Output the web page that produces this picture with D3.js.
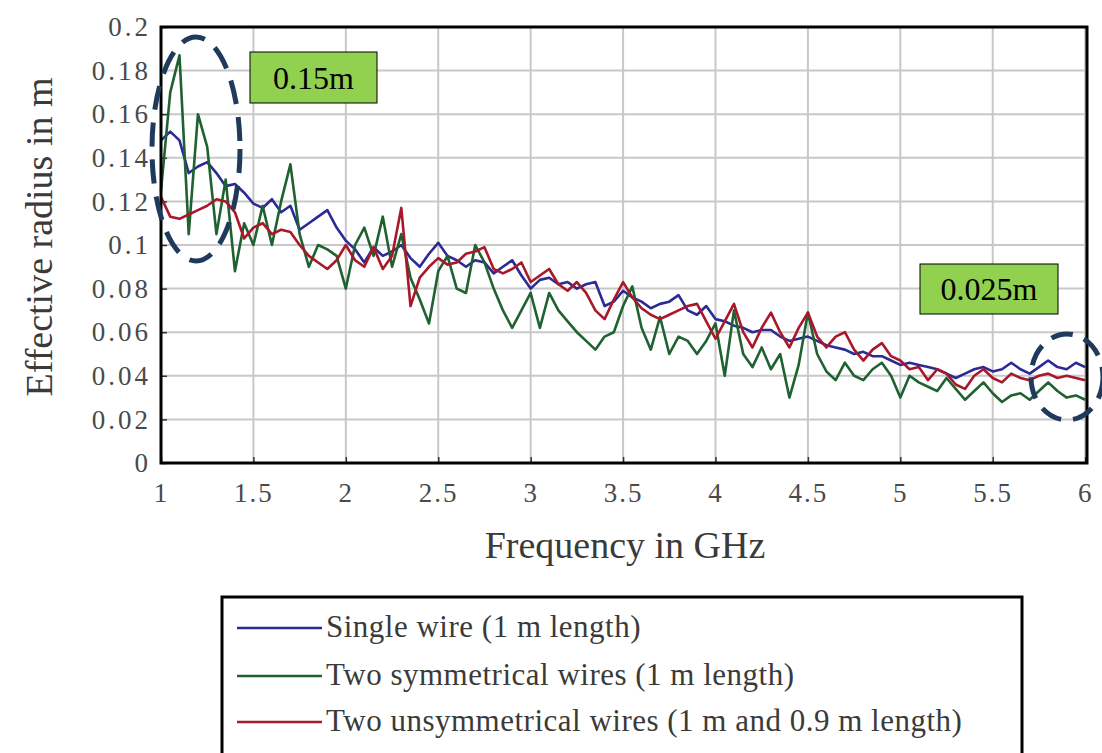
<!DOCTYPE html>
<html>
<head>
<meta charset="utf-8">
<script src="https://cdn.jsdelivr.net/npm/d3@7"></script>
<style>
  body { margin: 0; background: #fff; }
  svg { display: block; }
  text { font-family: "Liberation Serif", "DejaVu Serif", serif; }
</style>
</head>
<body>
<svg width="1102" height="753"></svg>
<script>
// frequency grid: 1 to 6 GHz in 0.05 steps
var freqs = d3.range(101).map(function (i) { return +(1 + i * 0.05).toFixed(2); });

var singleWire = [
  0.148, 0.152, 0.148, 0.133, 0.136, 0.138, 0.133, 0.127, 0.128, 0.124,
  0.119, 0.117, 0.121, 0.115, 0.118, 0.107, 0.110, 0.113, 0.116, 0.108,
  0.102, 0.098, 0.092, 0.099, 0.095, 0.097, 0.100, 0.094, 0.090, 0.096,
  0.101, 0.095, 0.093, 0.090, 0.093, 0.092, 0.087, 0.090, 0.093, 0.086,
  0.080, 0.084, 0.085, 0.082, 0.083, 0.080, 0.082, 0.083, 0.072, 0.074,
  0.079, 0.076, 0.074, 0.071, 0.073, 0.074, 0.077, 0.070, 0.068, 0.072,
  0.066, 0.065, 0.063, 0.062, 0.060, 0.061, 0.061, 0.058, 0.056, 0.057,
  0.058, 0.056, 0.054, 0.053, 0.052, 0.050, 0.051, 0.049, 0.049, 0.047,
  0.045, 0.046, 0.045, 0.044, 0.043, 0.041, 0.039, 0.041, 0.043, 0.044,
  0.042, 0.043, 0.046, 0.043, 0.041, 0.044, 0.047, 0.044, 0.043, 0.046,
  0.044
];

var symWires = [
  0.125, 0.170, 0.187, 0.105, 0.160, 0.145, 0.105, 0.130, 0.088, 0.110,
  0.100, 0.118, 0.100, 0.120, 0.137, 0.105, 0.090, 0.100, 0.098, 0.095,
  0.080, 0.100, 0.108, 0.095, 0.113, 0.090, 0.105, 0.085, 0.075, 0.064,
  0.088, 0.095, 0.080, 0.078, 0.100, 0.092, 0.080, 0.070, 0.062, 0.070,
  0.078, 0.062, 0.078, 0.070, 0.065, 0.060, 0.056, 0.052, 0.058, 0.060,
  0.072, 0.081, 0.062, 0.052, 0.067, 0.050, 0.058, 0.056, 0.050, 0.056,
  0.064, 0.040, 0.070, 0.050, 0.044, 0.053, 0.043, 0.050, 0.030, 0.045,
  0.069, 0.050, 0.042, 0.038, 0.046, 0.040, 0.038, 0.043, 0.046, 0.040,
  0.030, 0.040, 0.037, 0.035, 0.033, 0.039, 0.034, 0.029, 0.033, 0.037,
  0.032, 0.028, 0.031, 0.032, 0.029, 0.033, 0.037, 0.033, 0.030, 0.031,
  0.029
];

var unsymWires = [
  0.122, 0.113, 0.112, 0.114, 0.116, 0.118, 0.121, 0.120, 0.115, 0.103,
  0.108, 0.110, 0.105, 0.107, 0.106, 0.100, 0.095, 0.092, 0.089, 0.093,
  0.100, 0.093, 0.090, 0.099, 0.089, 0.095, 0.117, 0.072, 0.085, 0.090,
  0.094, 0.091, 0.092, 0.096, 0.097, 0.099, 0.089, 0.087, 0.089, 0.092,
  0.083, 0.086, 0.089, 0.082, 0.079, 0.083, 0.078, 0.070, 0.066, 0.075,
  0.083, 0.076, 0.071, 0.068, 0.066, 0.068, 0.070, 0.072, 0.073, 0.065,
  0.057, 0.065, 0.073, 0.060, 0.053, 0.062, 0.069, 0.060, 0.053, 0.062,
  0.069, 0.058, 0.053, 0.058, 0.060, 0.052, 0.047, 0.052, 0.055, 0.049,
  0.047, 0.043, 0.044, 0.038, 0.043, 0.041, 0.036, 0.034, 0.040, 0.043,
  0.039, 0.037, 0.041, 0.039, 0.038, 0.040, 0.041, 0.039, 0.040, 0.039,
  0.038
];

var seriesNames = [
  "Single wire (1 m length)",
  "Two symmetrical wires (1 m length)",
  "Two unsymmetrical wires (1 m and 0.9 m length)"
];
var seriesColors = ["#2b2a96", "#1f6130", "#a8182a"];

var xTicks = [1, 1.5, 2, 2.5, 3, 3.5, 4, 4.5, 5, 5.5, 6];
var yTicks = [0, 0.02, 0.04, 0.06, 0.08, 0.1, 0.12, 0.14, 0.16, 0.18, 0.2];

var svg = d3.select("svg"),
    margin = { top: 27, left: 161 },
    width = 1087 - margin.left,
    height = 463 - margin.top,
    g = svg.append("g").attr("transform", "translate(" + margin.left + "," + margin.top + ")");

var x = d3.scaleLinear().domain([1, 6.01]).range([0, width]);
var y = d3.scaleLinear().domain([0, 0.2]).range([height, 0]);

// grid
g.append("g")
    .selectAll("line")
    .data(yTicks)
    .enter()
    .append("line")
    .attr("x1", 0).attr("x2", width)
    .attr("y1", function (d) { return y(d); })
    .attr("y2", function (d) { return y(d); })
    .attr("stroke", "#c8c8c8")
    .attr("stroke-width", 2);

g.append("g")
    .selectAll("line")
    .data(xTicks)
    .enter()
    .append("line")
    .attr("y1", 0).attr("y2", height)
    .attr("x1", function (d) { return x(d); })
    .attr("x2", function (d) { return x(d); })
    .attr("stroke", "#c8c8c8")
    .attr("stroke-width", 2);

// axes
var xAxis = g.append("g")
    .attr("transform", "translate(0," + height + ")")
    .call(d3.axisBottom(x).tickValues(xTicks).tickSize(-6).tickPadding(20)
        .tickFormat(function (d) { return d; }));
var yAxis = g.append("g")
    .call(d3.axisLeft(y).tickValues(yTicks).tickSize(-6).tickPadding(10)
        .tickFormat(function (d) { return d; }));

[xAxis, yAxis].forEach(function (a) {
    a.select(".domain").remove();
    a.selectAll(".tick line").attr("stroke", "#333").attr("stroke-width", 1.5);
    a.selectAll(".tick text")
        .attr("fill", "#4a4a4a")
        .style("font-size", "27px")
        .style("font-family", "'Liberation Serif', serif");
});
yAxis.selectAll(".tick text").style("letter-spacing", "3px");
xAxis.selectAll(".tick text").style("letter-spacing", "2px");

// lines
var line = d3.line()
    .x(function (d, i) { return x(freqs[i]); })
    .y(function (d) { return y(d); });

[singleWire, symWires, unsymWires].forEach(function (s, k) {
    g.append("path")
        .datum(s)
        .attr("fill", "none")
        .attr("stroke", seriesColors[k])
        .attr("stroke-width", 2.6)
        .attr("stroke-linejoin", "round")
        .attr("d", line);
});

// frame
g.append("rect")
    .attr("x", 0).attr("y", 0)
    .attr("width", width).attr("height", height)
    .attr("fill", "none")
    .attr("stroke", "#000")
    .attr("stroke-width", 3);

// axis titles
svg.append("text")
    .attr("x", 625).attr("y", 558)
    .attr("text-anchor", "middle")
    .attr("fill", "#3a3a3a")
    .style("font-size", "38px")
    .text("Frequency in GHz");

svg.append("text")
    .attr("transform", "translate(52,237) rotate(-90)")
    .attr("text-anchor", "middle")
    .attr("fill", "#3a3a3a")
    .style("font-size", "38px")
    .text("Effective radius in m");

// annotations: green labels
var labels = [
    { t: "0.15m", x: 250, y: 52, w: 127, h: 51 },
    { t: "0.025m", x: 920, y: 264, w: 138, h: 50 }
];
labels.forEach(function (b) {
    svg.append("rect")
        .attr("x", b.x).attr("y", b.y).attr("width", b.w).attr("height", b.h)
        .attr("fill", "#92d050").attr("stroke", "#000").attr("stroke-width", 1);
    svg.append("text")
        .attr("x", b.x + b.w / 2).attr("y", b.y + b.h / 2 + 11)
        .attr("text-anchor", "middle")
        .attr("fill", "#000")
        .style("font-size", "32px")
        .text(b.t);
});

// dashed ellipses
svg.append("ellipse")
    .attr("cx", 196).attr("cy", 149).attr("rx", 44).attr("ry", 112)
    .attr("fill", "none").attr("stroke", "#1f3a5c")
    .attr("stroke-width", 5).attr("stroke-dasharray", "24,13");
svg.append("ellipse")
    .attr("cx", 1067).attr("cy", 377).attr("rx", 36).attr("ry", 43)
    .attr("fill", "none").attr("stroke", "#1f3a5c")
    .attr("stroke-width", 5).attr("stroke-dasharray", "22,12");

// legend
var legend = svg.append("g");
legend.append("rect")
    .attr("x", 222).attr("y", 597).attr("width", 800).attr("height", 170)
    .attr("fill", "#fff").attr("stroke", "#000").attr("stroke-width", 3);

var legendY = [628, 676, 722];
seriesNames.forEach(function (n, k) {
    legend.append("line")
        .attr("x1", 237).attr("x2", 322)
        .attr("y1", legendY[k]).attr("y2", legendY[k])
        .attr("stroke", seriesColors[k]).attr("stroke-width", 2.4);
    legend.append("text")
        .attr("x", 326).attr("y", legendY[k] + 9)
        .attr("fill", "#3a3a3a")
        .style("font-size", "31px")
        .style("letter-spacing", "0.5px")
        .text(n);
});
</script>
</body>
</html>
